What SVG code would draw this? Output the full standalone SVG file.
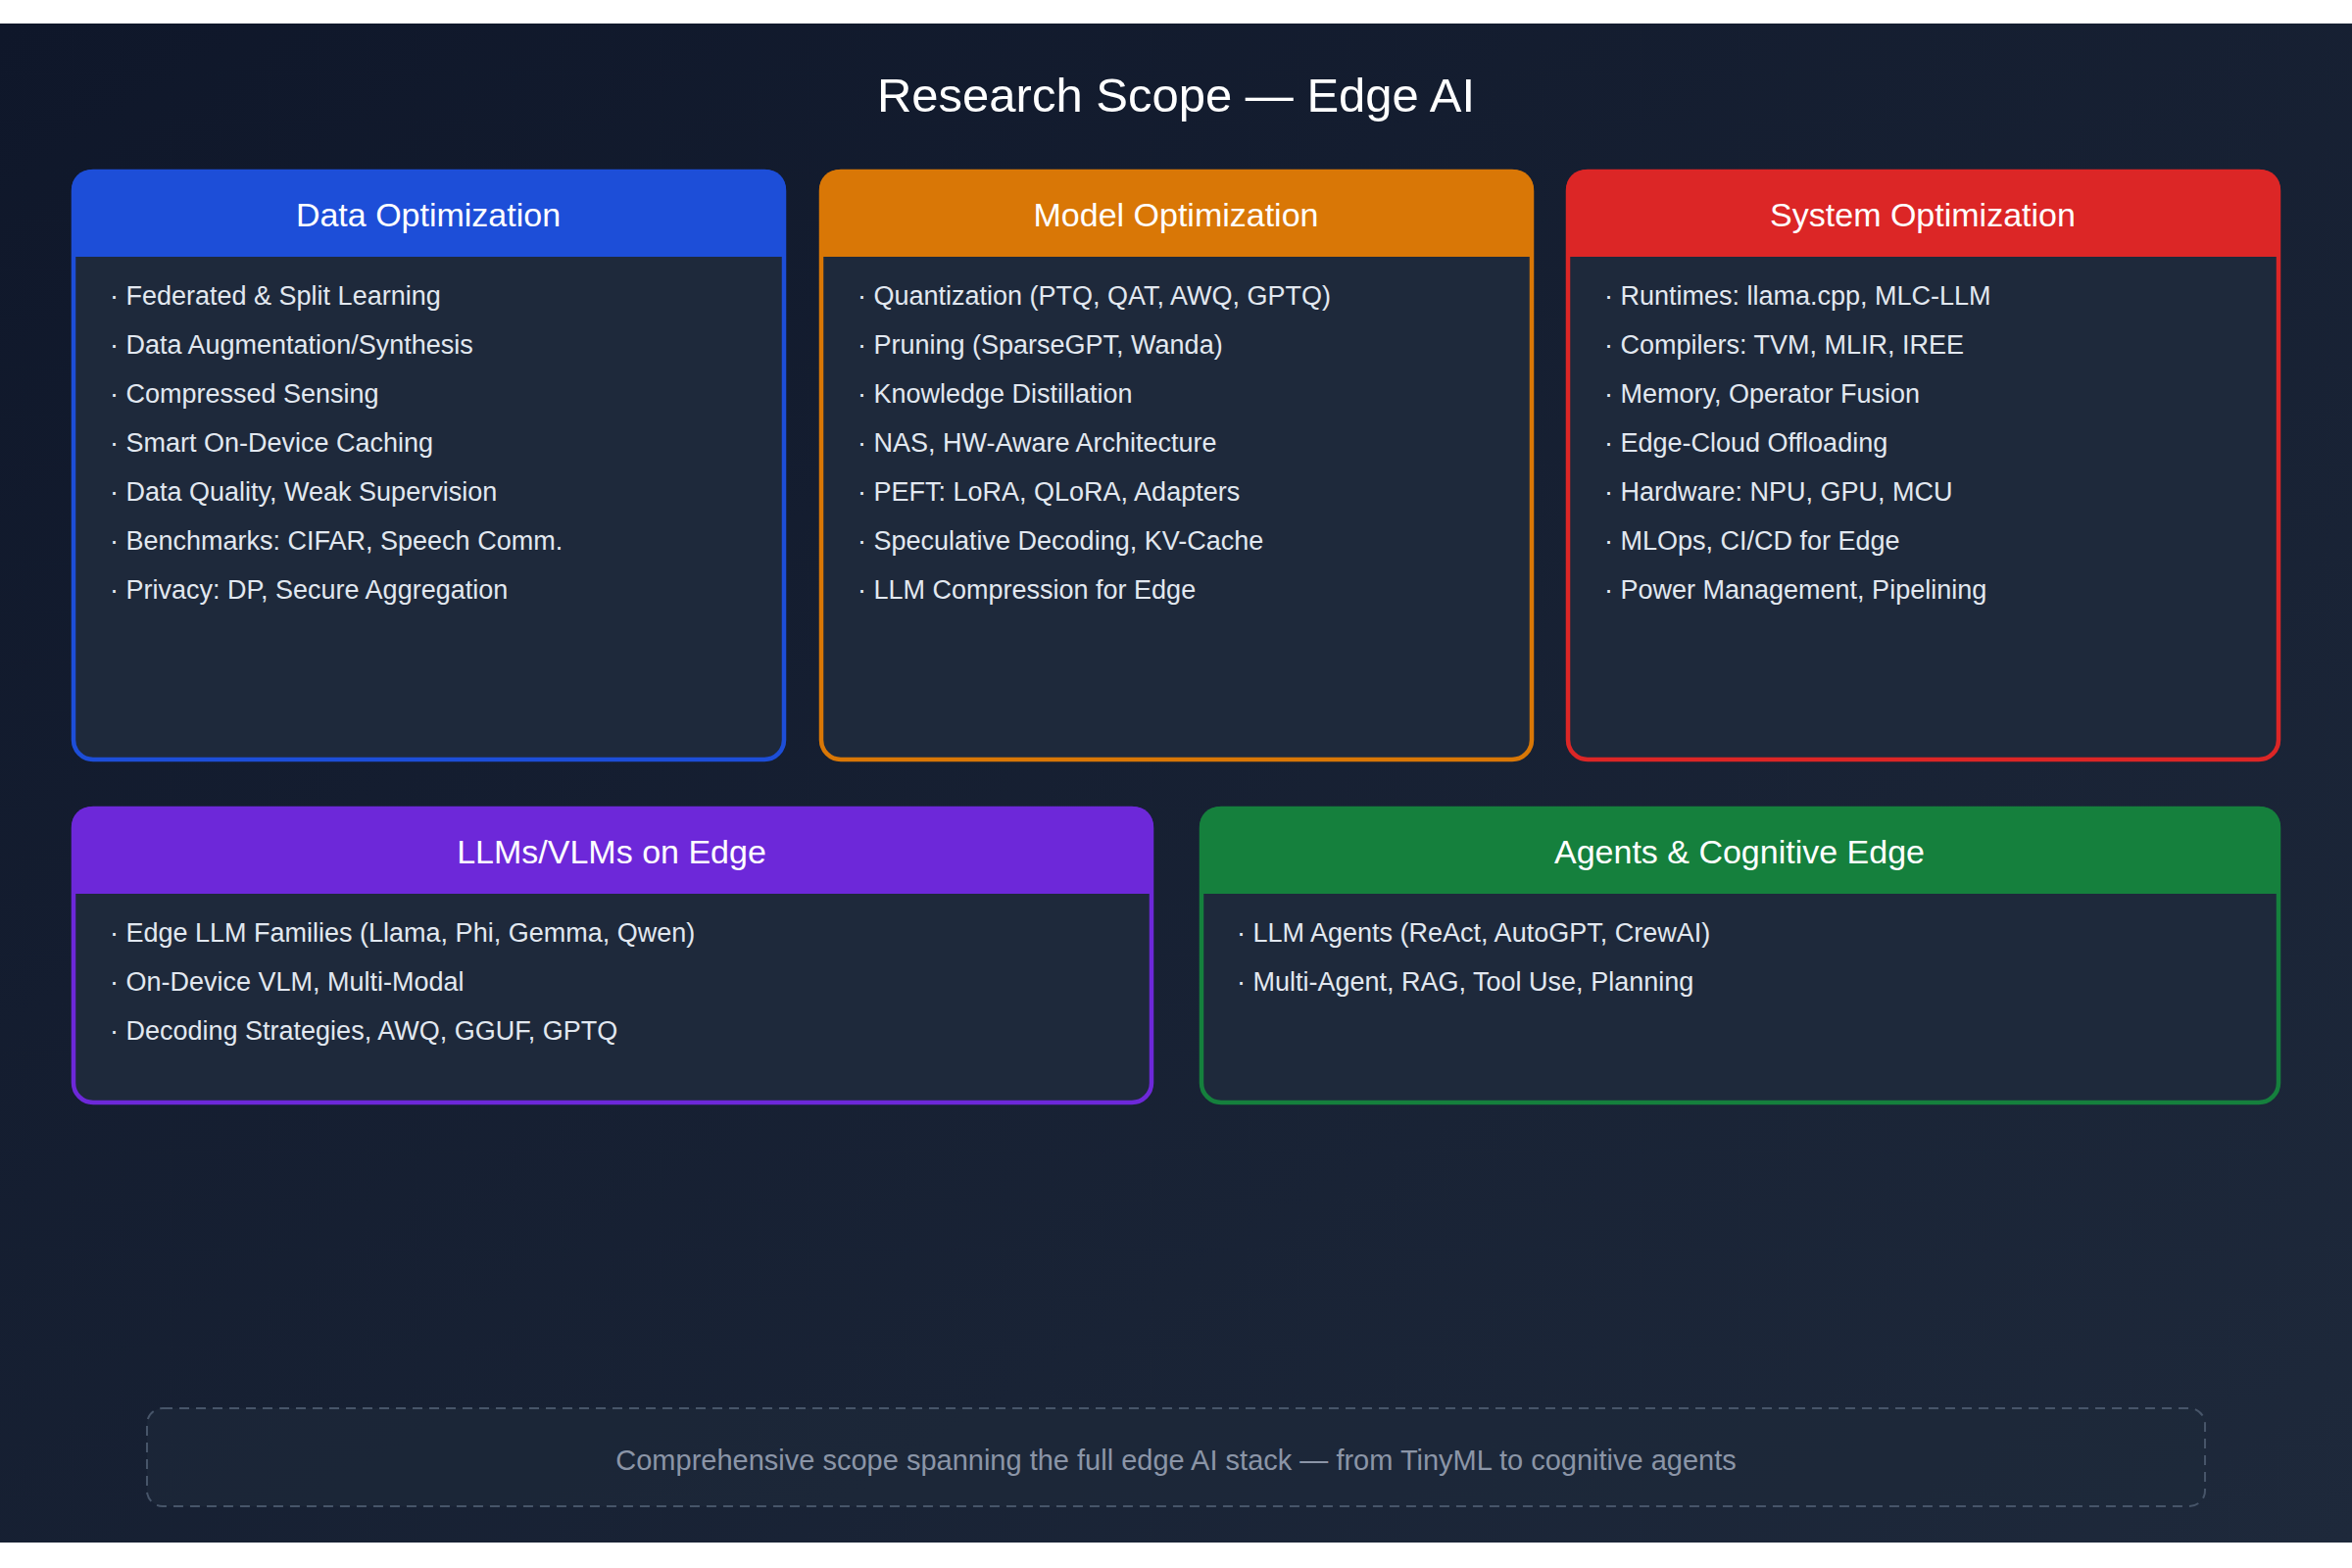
<svg xmlns="http://www.w3.org/2000/svg" width="2400" height="1600" viewBox="0 0 2400 1600">
<defs>
<linearGradient id="bg" x1="0" y1="0" x2="1" y2="1"><stop offset="0" stop-color="#0f172a"/><stop offset="1" stop-color="#1e293b"/></linearGradient>
<style>
.t{font-family:"Liberation Sans",Arial,sans-serif}
.title{font-size:49px;fill:#fff;text-anchor:middle}
.hd{font-size:34px;fill:#fff;text-anchor:middle}
.it{font-size:27px;fill:#e2e8f0}
.box{fill:#1e293b;stroke-width:4.5}
.ft{font-size:29px;fill:#8b95a7;text-anchor:middle}
</style>
</defs>
<rect width="2400" height="1600" fill="#fff"/>
<rect x="0" y="24" width="2400" height="1550" fill="url(#bg)"/>
<text class="t title" x="1200" y="114">Research Scope — Edge AI</text>
<g id="data">
<rect class="box" x="75" y="175" width="725" height="600" rx="20" stroke="#1d4ed8"/>
<path d="M73 262V193a20 20 0 0 1 20-20H782a20 20 0 0 1 20 20V262Z" fill="#1d4ed8"/>
<text class="t hd" x="437" y="231">Data Optimization</text>
<g class="t it"><text x="112" y="311">· Federated &amp; Split Learning</text><text x="112" y="361">· Data Augmentation/Synthesis</text><text x="112" y="411">· Compressed Sensing</text><text x="112" y="461">· Smart On-Device Caching</text><text x="112" y="511">· Data Quality, Weak Supervision</text><text x="112" y="561">· Benchmarks: CIFAR, Speech Comm.</text><text x="112" y="611">· Privacy: DP, Secure Aggregation</text></g>
</g>
<g id="model">
<rect class="box" x="838" y="175" width="725" height="600" rx="20" stroke="#d97706"/>
<path d="M836 262V193a20 20 0 0 1 20-20H1545a20 20 0 0 1 20 20V262Z" fill="#d97706"/>
<text class="t hd" x="1200" y="231">Model Optimization</text>
<g class="t it"><text x="875" y="311">· Quantization (PTQ, QAT, AWQ, GPTQ)</text><text x="875" y="361">· Pruning (SparseGPT, Wanda)</text><text x="875" y="411">· Knowledge Distillation</text><text x="875" y="461">· NAS, HW-Aware Architecture</text><text x="875" y="511">· PEFT: LoRA, QLoRA, Adapters</text><text x="875" y="561">· Speculative Decoding, KV-Cache</text><text x="875" y="611">· LLM Compression for Edge</text></g>
</g>
<g id="system">
<rect class="box" x="1600" y="175" width="725" height="600" rx="20" stroke="#dc2626"/>
<path d="M1598 262V193a20 20 0 0 1 20-20H2307a20 20 0 0 1 20 20V262Z" fill="#dc2626"/>
<text class="t hd" x="1962" y="231">System Optimization</text>
<g class="t it"><text x="1637" y="311">· Runtimes: llama.cpp, MLC-LLM</text><text x="1637" y="361">· Compilers: TVM, MLIR, IREE</text><text x="1637" y="411">· Memory, Operator Fusion</text><text x="1637" y="461">· Edge-Cloud Offloading</text><text x="1637" y="511">· Hardware: NPU, GPU, MCU</text><text x="1637" y="561">· MLOps, CI/CD for Edge</text><text x="1637" y="611">· Power Management, Pipelining</text></g>
</g>
<g id="llm">
<rect class="box" x="75" y="825" width="1100" height="300" rx="20" stroke="#6d28d9"/>
<path d="M73 912V843a20 20 0 0 1 20-20H1157a20 20 0 0 1 20 20V912Z" fill="#6d28d9"/>
<text class="t hd" x="624" y="881">LLMs/VLMs on Edge</text>
<g class="t it"><text x="112" y="961">· Edge LLM Families (Llama, Phi, Gemma, Qwen)</text><text x="112" y="1011">· On-Device VLM, Multi-Modal</text><text x="112" y="1061">· Decoding Strategies, AWQ, GGUF, GPTQ</text></g>
</g>
<g id="agents">
<rect class="box" x="1226" y="825" width="1099" height="300" rx="20" stroke="#15803d"/>
<path d="M1224 912V843a20 20 0 0 1 20-20H2307a20 20 0 0 1 20 20V912Z" fill="#15803d"/>
<text class="t hd" x="1775" y="881">Agents &amp; Cognitive Edge</text>
<g class="t it"><text x="1262" y="961">· LLM Agents (ReAct, AutoGPT, CrewAI)</text><text x="1262" y="1011">· Multi-Agent, RAG, Tool Use, Planning</text></g>
</g>
<g id="footer">
<rect x="150" y="1437" width="2100" height="100" rx="16" fill="#1e293b" fill-opacity="0.6" stroke="#475569" stroke-width="2" stroke-dasharray="10 7"/>
<text class="t ft" x="1200" y="1500">Comprehensive scope spanning the full edge AI stack — from TinyML to cognitive agents</text>
</g>
<g id="connectors"/>
</svg>
